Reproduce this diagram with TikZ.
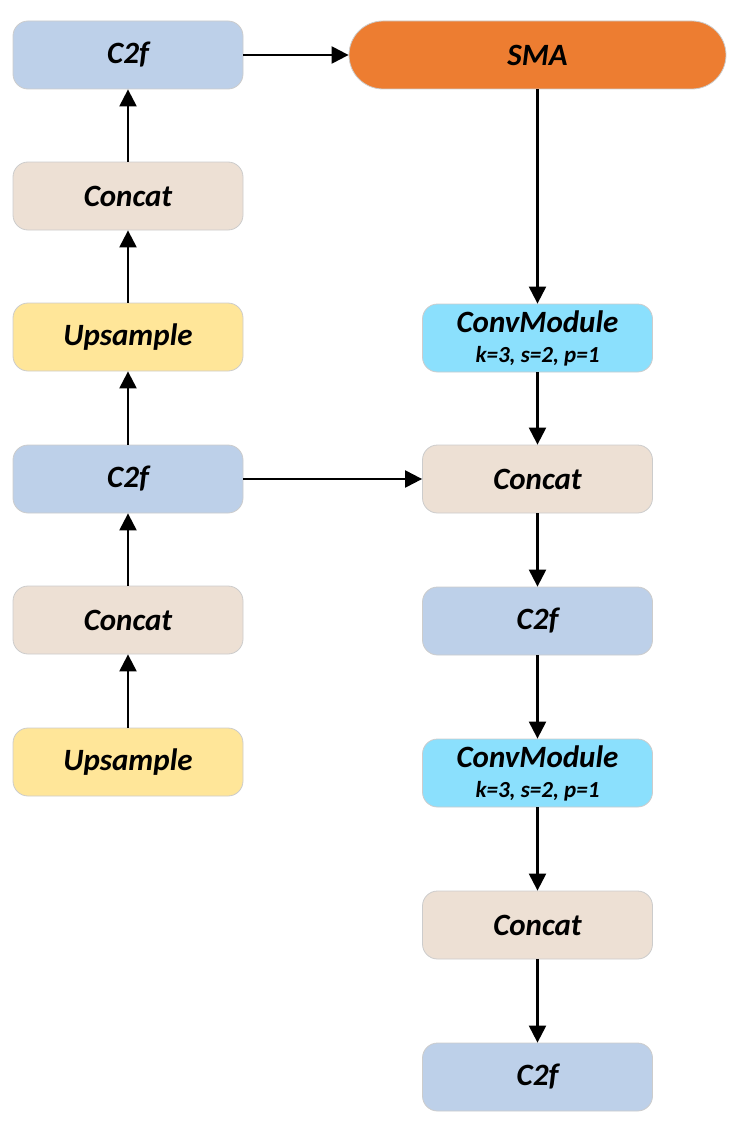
\documentclass[tikz,border=0pt]{standalone}
\usepackage{fontspec}
\setmainfont{Carlito}
\usetikzlibrary{arrows.meta}
\definecolor{cblue}{HTML}{BDD0E9}
\definecolor{cbeige}{HTML}{EDE0D4}
\definecolor{cyellow}{HTML}{FFE699}
\definecolor{ccyan}{HTML}{8BE0FD}
\definecolor{corange}{HTML}{ED7D31}
\definecolor{cborder}{HTML}{CCCCCC}
\tikzset{
  blk/.style={draw=cborder, line width=0.8pt, rounded corners=15pt, minimum width=230pt, minimum height=68pt, inner sep=0pt, align=center, font=\fontsize{31}{34}\selectfont\bfseries\itshape},
  c2fbox/.style={blk, fill=cblue},
  catbox/.style={blk, fill=cbeige},
  upbox/.style={blk, fill=cyellow},
  convbox/.style={blk, fill=ccyan, font=\fontsize{31}{30}\selectfont\bfseries\itshape},
  smabox/.style={blk, fill=corange, rounded corners=34pt, minimum width=377pt},
  arr/.style={line width=2.2pt, -{Triangle[width=17pt,length=17pt]}}
}
\newcommand{\subtxt}[1]{{\fontsize{23}{26}\selectfont #1}}
\begin{document}
\begin{tikzpicture}[x=1pt,y=-1pt]
\useasboundingbox (0,0) rectangle (731,1121);
\node[c2fbox] (lc1) at (128,55) {C2f};
\node[catbox] (lcat1) at (128,196) {Concat};
\node[upbox] (lup1) at (128,337) {Upsample};
\node[c2fbox] (lc2) at (128,479) {C2f};
\node[catbox] (lcat2) at (128,620) {Concat};
\node[upbox] (lup2) at (128,762) {Upsample};
\node[smabox] (sma) at (537.5,55) {SMA};
\node[convbox] (cm1) at (537.5,338) {ConvModule\\\subtxt{k=3, s=2, p=1}};
\node[catbox] (rcat1) at (537.5,479) {Concat};
\node[c2fbox] (rc1) at (537.5,621) {C2f};
\node[convbox] (cm2) at (537.5,773) {ConvModule\\\subtxt{k=3, s=2, p=1}};
\node[catbox] (rcat2) at (537.5,925) {Concat};
\node[c2fbox] (rc2) at (537.5,1077) {C2f};
\draw[arr] (lup2) -- (lcat2);
\draw[arr] (lcat2) -- (lc2);
\draw[arr] (lc2) -- (lup1);
\draw[arr] (lup1) -- (lcat1);
\draw[arr] (lcat1) -- (lc1);
\draw[arr] (lc1) -- (sma);
\draw[arr] (lc2) -- (rcat1);
\draw[arr] (sma) -- (cm1);
\draw[arr] (cm1) -- (rcat1);
\draw[arr] (rcat1) -- (rc1);
\draw[arr] (rc1) -- (cm2);
\draw[arr] (cm2) -- (rcat2);
\draw[arr] (rcat2) -- (rc2);
\end{tikzpicture}
\end{document}
